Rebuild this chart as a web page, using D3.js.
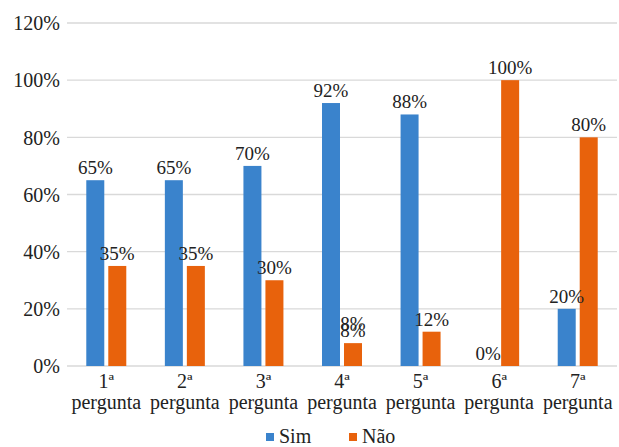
<!DOCTYPE html>
<html>
<head>
<meta charset="utf-8">
<script src="https://cdn.jsdelivr.net/npm/d3@7"></script>
<style>
  html, body { margin: 0; padding: 0; background: #fff; }
  svg, svg text { font-family: "Liberation Serif", "DejaVu Serif", "Times New Roman", Times, serif; }
  svg { display: block; }
</style>
</head>
<body>
<svg id="chart" width="619" height="447"></svg>
<script>
const categories = ["1ª", "2ª", "3ª", "4ª", "5ª", "6ª", "7ª"];
const categorySuffix = "pergunta";
const series = ["Sim", "Não"];
const simValues = [0.65, 0.65, 0.70, 0.92, 0.88, 0.00, 0.20];
const naoValues = [0.35, 0.35, 0.30, 0.08, 0.12, 1.00, 0.80];
const yTicks = [0, 0.2, 0.4, 0.6, 0.8, 1.0, 1.2];
const colors = ["#3a83cc", "#e8620c"];
// duplicated label seen in the source (4ª pergunta, Não)
const duplicateLabels = [{ cat: "4ª", series: "Não", value: 0.08 }];

(function () {
const FONT = "'Liberation Serif', 'DejaVu Serif', 'Times New Roman', serif";
const svg = d3.select("#chart");
const mLeft = 67, mRight = 617, mTop = 23, mBottom = 366;

const y = d3.scaleLinear().domain([0, 1.2]).range([mBottom, mTop]);
const x0 = d3.scaleBand().domain(categories).range([mLeft, mRight]).padding(0);
const groupW = 40;
const x1 = d3.scaleBand().domain(series).range([0, groupW]).paddingInner(0.1818);

// gridlines
svg.append("g").selectAll("line").data(yTicks).join("line")
  .attr("x1", mLeft).attr("x2", mRight)
  .attr("y1", d => y(d)).attr("y2", d => y(d))
  .attr("stroke", "#d9d9d9").attr("stroke-width", 1.3);

// y axis labels
const fmt = d3.format(".0%");
svg.append("g").selectAll("text").data(yTicks).join("text")
  .attr("x", 60).attr("y", d => y(d)).attr("dy", "0.36em")
  .attr("text-anchor", "end").attr("font-size", 20).attr("fill", "#222")
  .attr("font-family", FONT)
  .text(d => fmt(d));

const data = categories.map((c, i) => ({ cat: c, vals: [simValues[i], naoValues[i]] }));

const groups = svg.append("g").selectAll("g").data(data).join("g")
  .attr("transform", d => `translate(${x0(d.cat) + x0.bandwidth() / 2 - groupW / 2},0)`);

groups.selectAll("rect").data(d => d.vals.map((v, j) => ({ s: series[j], v, j }))).join("rect")
  .attr("x", d => x1(d.s)).attr("width", x1.bandwidth())
  .attr("y", d => y(d.v)).attr("height", d => y(0) - y(d.v))
  .attr("fill", d => colors[d.j]);

groups.selectAll("text.lbl").data(d => d.vals.map((v, j) => ({ s: series[j], v, j }))).join("text")
  .attr("class", "lbl")
  .attr("x", d => x1(d.s) + x1.bandwidth() / 2)
  .attr("y", d => y(d.v) - 6)
  .attr("text-anchor", "middle").attr("font-size", 19).attr("fill", "#222")
  .attr("font-family", FONT)
  .text(d => fmt(d.v));

// duplicate label
svg.append("g").selectAll("text").data(duplicateLabels).join("text")
  .attr("x", d => x0(d.cat) + x0.bandwidth() / 2 - groupW / 2 + x1(d.series) + x1.bandwidth() / 2)
  .attr("y", d => y(d.value) - 13)
  .attr("text-anchor", "middle").attr("font-size", 19).attr("fill", "#222")
  .attr("font-family", FONT)
  .text(d => fmt(d.value));

// category labels
const cl = svg.append("g").selectAll("g").data(categories).join("g")
  .attr("transform", d => `translate(${x0(d) + x0.bandwidth() / 2},0)`);
cl.append("text").attr("y", 388).attr("text-anchor", "middle")
  .attr("font-size", 20).attr("fill", "#222").attr("font-family", FONT).text(d => d);
cl.append("text").attr("y", 409).attr("text-anchor", "middle")
  .attr("font-size", 20).attr("fill", "#222").attr("font-family", FONT).text(categorySuffix);

// legend
const legendX = [266, 349];
const lg = svg.append("g").selectAll("g").data(series).join("g")
  .attr("transform", (d, i) => `translate(${legendX[i]},0)`);
lg.append("rect").attr("x", 0).attr("y", 433).attr("width", 8).attr("height", 8)
  .attr("fill", (d, i) => colors[i]);
lg.append("text").attr("x", 13).attr("y", 443).attr("font-size", 20).attr("fill", "#222")
  .attr("font-family", FONT)
  .text(d => d);
})();
</script>
</body>
</html>
